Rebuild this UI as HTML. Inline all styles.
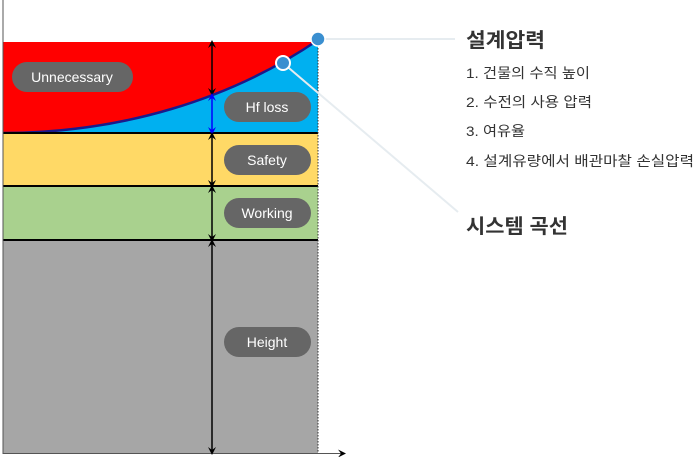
<!DOCTYPE html>
<html><head><meta charset="utf-8"><style>
body{margin:0;width:694px;height:457px;background:#fff;overflow:hidden;font-family:"Liberation Sans","Noto Sans CJK KR",sans-serif}
svg{position:absolute;left:0;top:0}
</style></head><body>
<svg width="694" height="457" viewBox="0 0 694 457" font-family="Liberation Sans, Noto Sans CJK KR, sans-serif">
<defs>
<marker id="a" markerWidth="8" markerHeight="8" refX="4" refY="4" orient="auto-start-reverse" markerUnits="userSpaceOnUse"><path d="M0,0 L8,4 L0,8 L3,4z" fill="#000"/></marker>
<marker id="b" markerWidth="8" markerHeight="8" refX="4" refY="4" orient="auto-start-reverse" markerUnits="userSpaceOnUse"><path d="M0,0 L8,4 L0,8 L3,4z" fill="#00f"/></marker>
</defs>
<rect x="3" y="42" width="315" height="92" fill="#ff0000"/>
<path d="M3,133 C120,133 230,100 318,40 L318,133 Z" fill="#00b0f0"/>
<path d="M3,133 C120,133 230,100 318,40" fill="none" stroke="#1a1a8c" stroke-width="2.5"/>
<rect x="3" y="133" width="315" height="53" fill="#ffd966"/>
<rect x="3" y="186" width="315" height="54" fill="#a9d18e"/>
<rect x="3" y="240" width="315" height="213" fill="#a6a6a6"/>
<line x1="3" y1="133" x2="318" y2="133" stroke="#000" stroke-width="2"/>
<line x1="3" y1="186" x2="318" y2="186" stroke="#000" stroke-width="2"/>
<line x1="3" y1="240" x2="318" y2="240" stroke="#000" stroke-width="2"/>
<line x1="318" y1="42" x2="318" y2="453" stroke="#333" stroke-width="1" stroke-dasharray="1.5,1.5"/>
<line x1="3" y1="0" x2="3" y2="454" stroke="#555" stroke-width="1"/>
<line x1="3" y1="453.5" x2="342" y2="453.5" stroke="#555" stroke-width="1" marker-end="url(#a)"/>
<line x1="212" y1="44" x2="212" y2="92" stroke="#000" stroke-width="1.5" marker-start="url(#a)" marker-end="url(#a)"/>
<line x1="212" y1="97" x2="212" y2="131" stroke="#00f" stroke-width="1.5" marker-start="url(#b)" marker-end="url(#b)"/>
<line x1="212" y1="136" x2="212" y2="184" stroke="#000" stroke-width="1.5" marker-start="url(#a)" marker-end="url(#a)"/>
<line x1="212" y1="189" x2="212" y2="238" stroke="#000" stroke-width="1.5" marker-start="url(#a)" marker-end="url(#a)"/>
<line x1="212" y1="243" x2="212" y2="451" stroke="#000" stroke-width="1.5" marker-start="url(#a)" marker-end="url(#a)"/>
<g fill="#666">
<rect x="12" y="62" width="121" height="30" rx="15"/>
<rect x="224" y="92" width="87" height="30" rx="15"/>
<rect x="224" y="145" width="87" height="30" rx="15"/>
<rect x="224" y="198" width="87" height="30" rx="15"/>
<rect x="224" y="327" width="87" height="30" rx="15"/>
</g>
<g fill="#fff" font-size="14" text-anchor="middle">
<text x="72" y="82">Unnecessary</text>
<text x="267" y="112">Hf loss</text>
<text x="267" y="165">Safety</text>
<text x="267" y="218">Working</text>
<text x="267" y="347">Height</text>
</g>
<line x1="318" y1="39" x2="455" y2="39" stroke="#e6ecf0" stroke-width="2"/>
<line x1="283" y1="63" x2="458" y2="212" stroke="#e6ecf0" stroke-width="2"/>
<circle cx="318" cy="39" r="7" fill="#3a8fd0" stroke="#fff" stroke-width="1.5"/>
<circle cx="283" cy="63" r="7" fill="#3a8fd0" stroke="#fff" stroke-width="2"/>
<g fill="#333">
<text x="466" y="47" font-size="20" font-weight="bold" textLength="79" lengthAdjust="spacingAndGlyphs">설계압력</text>
<text x="466" y="78" font-size="14" textLength="124" lengthAdjust="spacingAndGlyphs">1. 건물의 수직 높이</text>
<text x="466" y="107" font-size="14" textLength="126" lengthAdjust="spacingAndGlyphs">2. 수전의 사용 압력</text>
<text x="466" y="136" font-size="14" textLength="59" lengthAdjust="spacingAndGlyphs">3. 여유율</text>
<text x="466" y="166" font-size="14" textLength="228" lengthAdjust="spacingAndGlyphs">4. 설계유량에서 배관마찰 손실압력</text>
<text x="466" y="233" font-size="20" font-weight="bold" textLength="102" lengthAdjust="spacingAndGlyphs">시스템 곡선</text>
</g>
</svg>
</body></html>
